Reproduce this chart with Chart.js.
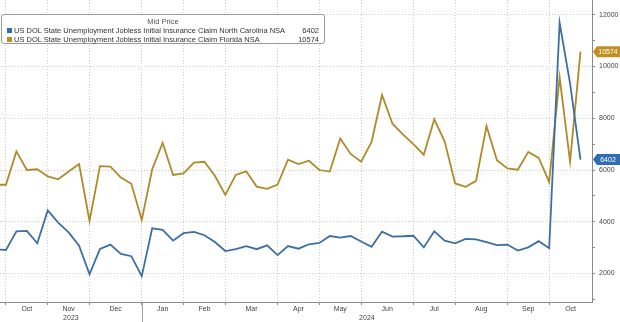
<!DOCTYPE html>
<html>
<head>
<meta charset="utf-8">
<script src="https://cdn.jsdelivr.net/npm/chart.js@4.4.1/dist/chart.umd.min.js"></script>
<style>
  body { margin: 0; background: #fff; }
  #wrap { position: relative; width: 620px; height: 322px; }
  #legend {
    position: absolute; left: 1px; top: 14px; width: 322px; height: 28px;
    border: 1px solid #9a9a9a; border-radius: 3px; background: #fff;
    font: 7.5px "Liberation Sans", Arial, sans-serif; color: #333;
  }
  #legend div { position: absolute; line-height: 9px; white-space: nowrap; }
  #legend .sq { width: 5px; height: 5px; }
</style>
</head>
<body>
<div id="wrap">
  <canvas id="myChart" width="620" height="322"></canvas>
  <div id="legend"></div>
</div>
<script>
// weekly observations (week ending)
const weeks = [
  '2023-09-23', '2023-09-30', '2023-10-07', '2023-10-14', '2023-10-21', '2023-10-28',
  '2023-11-04', '2023-11-11', '2023-11-18', '2023-11-25', '2023-12-02', '2023-12-09',
  '2023-12-16', '2023-12-23', '2023-12-30', '2024-01-06', '2024-01-13', '2024-01-20',
  '2024-01-27', '2024-02-03', '2024-02-10', '2024-02-17', '2024-02-24', '2024-03-02',
  '2024-03-09', '2024-03-16', '2024-03-23', '2024-03-30', '2024-04-06', '2024-04-13',
  '2024-04-20', '2024-04-27', '2024-05-04', '2024-05-11', '2024-05-18', '2024-05-25',
  '2024-06-01', '2024-06-08', '2024-06-15', '2024-06-22', '2024-06-29', '2024-07-06',
  '2024-07-13', '2024-07-20', '2024-07-27', '2024-08-03', '2024-08-10', '2024-08-17',
  '2024-08-24', '2024-08-31', '2024-09-07', '2024-09-14', '2024-09-21', '2024-09-28',
  '2024-10-05', '2024-10-12', '2024-10-19'
];

const northCarolina = [
  2940, 2910, 3630, 3650, 3170, 4440, 3970, 3590, 3080, 1970, 2950, 3120,
  2760, 2670, 1900, 3750, 3690, 3270, 3560, 3610, 3480, 3220, 2870, 2940,
  3060, 2940, 3090, 2710, 3060, 2960, 3130, 3180, 3450, 3390, 3450, 3240,
  3030, 3620, 3430, 3440, 3460, 3010, 3630, 3270, 3170, 3340, 3320, 3210,
  3100, 3120, 2890, 3010, 3250, 2980, 11690, 9350, 6402
];

const florida = [
  5430, 5430, 6720, 6000, 6030, 5750, 5640, 5940, 6230, 4030, 6150, 6130,
  5710, 5470, 4070, 6030, 7050, 5810, 5870, 6290, 6320, 5780, 5040, 5810,
  5950, 5360, 5270, 5440, 6400, 6230, 6360, 6000, 5940, 7220, 6620, 6320,
  7090, 8900, 7790, 7380, 7000, 6590, 7960, 7100, 5480, 5350, 5580, 7700,
  6380, 6060, 6010, 6700, 6470, 5540, 9590, 6320, 10574
];

const monthLabels = ['Oct', 'Nov', 'Dec', 'Jan', 'Feb', 'Mar', 'Apr', 'May', 'Jun', 'Jul', 'Aug', 'Sep', 'Oct'];
const yearLabels = ['2023', '2024'];
const yTicks = [1000, 2000, 3000, 4000, 5000, 6000, 7000, 8000, 9000, 10000, 11000, 12000];
const seriesNames = [
  'US DOL State Unemployment Jobless Initial Insurance Claim North Carolina NSA',
  'US DOL State Unemployment Jobless Initial Insurance Claim Florida NSA'
];
const seriesColors = ['#3d6fa3', '#b08a2a'];
const tagColors = ['#2f6db3', '#c08f22'];

const xMin = 0.43, xMax = 57.1;

// last week of every month -> gridline, year change -> separator
var monthEnds = [];
var yearEnd = 0;
for (var i = 0; i < weeks.length - 1; i++) {
  if (weeks[i].slice(5, 7) !== weeks[i + 1].slice(5, 7)) monthEnds.push(i);
  if (weeks[i].slice(0, 4) !== weeks[i + 1].slice(0, 4)) yearEnd = i;
}
var monthMids = monthEnds.map(function (m, k) {
  var next = k + 1 < monthEnds.length ? monthEnds[k + 1] : xMax;
  return (m + next) / 2;
});
var yearMids = [(xMin + yearEnd) / 2, (yearEnd + xMax) / 2];

var allSeries = [northCarolina, florida];

// legend box
var legend = document.getElementById('legend');
var html = '<div style="left:0;width:322px;text-align:center;top:2px;color:#555">Mid Price</div>';
allSeries.forEach(function (s, k) {
  var top = 11 + k * 9;
  html += '<div class="sq" style="left:5px;top:' + (top + 2) + 'px;background:' + tagColors[k] + '"></div>';
  html += '<div style="left:12px;top:' + top + 'px">' + seriesNames[k] + '</div>';
  html += '<div style="right:5px;top:' + top + 'px">' + s[s.length - 1] + '</div>';
});
legend.innerHTML = html;

const lastValueTags = {
  id: 'lastValueTags',
  afterDraw(chart) {
    var ctx = chart.ctx;
    var yScale = chart.scales.y;
    var x0 = chart.chartArea.right + 1;
    ctx.save();
    allSeries.forEach(function (s, k) {
      var v = s[s.length - 1];
      var y = yScale.getPixelForValue(v);
      ctx.fillStyle = tagColors[k];
      ctx.beginPath();
      ctx.moveTo(x0, y);
      ctx.lineTo(x0 + 4, y - 5.5);
      ctx.lineTo(620, y - 5.5);
      ctx.lineTo(620, y + 5.5);
      ctx.lineTo(x0 + 4, y + 5.5);
      ctx.closePath();
      ctx.fill();
      ctx.fillStyle = '#fff';
      ctx.font = '7px "Liberation Sans", Arial, sans-serif';
      ctx.textAlign = 'center';
      ctx.textBaseline = 'middle';
      ctx.fillText(String(v), x0 + 15, y + 0.5);
    });
    ctx.restore();
  }
};

const yearSeparator = {
  id: 'yearSeparator',
  afterDraw(chart) {
    var ctx = chart.ctx;
    var x = Math.round(chart.scales.x.getPixelForValue(yearEnd)) + 0.5;
    ctx.save();
    ctx.strokeStyle = '#a0a0a0';
    ctx.lineWidth = 1;
    ctx.beginPath();
    ctx.moveTo(x, chart.chartArea.bottom);
    ctx.lineTo(x, chart.height);
    ctx.stroke();
    ctx.restore();
  }
};

var tickFont = { family: '"Liberation Sans", Arial, sans-serif', size: 7 };

function noPadding(s) {
  s.paddingTop = 0;
  s.paddingBottom = 0;
  s.paddingLeft = 0;
  s.paddingRight = 0;
}

var ctx = document.getElementById('myChart').getContext('2d');
var myChart = new Chart(ctx, {
  type: 'line',
  data: {
    datasets: [
      {
        label: seriesNames[0],
        data: northCarolina.map(function (v, i) { return { x: i, y: v }; }),
        borderColor: seriesColors[0],
        borderWidth: 1.8
      },
      {
        label: seriesNames[1],
        data: florida.map(function (v, i) { return { x: i, y: v }; }),
        borderColor: seriesColors[1],
        borderWidth: 1.8
      }
    ]
  },
  options: {
    responsive: false,
    animation: false,
    layout: { padding: 0, autoPadding: false },
    elements: { point: { radius: 0 }, line: { tension: 0 } },
    plugins: { legend: { display: false }, tooltip: { enabled: false } },
    scales: {
      x: {
        type: 'linear', position: 'bottom', weight: 0, min: xMin, max: xMax,
        afterBuildTicks: function (s) { s.ticks = monthEnds.map(function (v) { return { value: v }; }); },
        ticks: { autoSkip: false, callback: function () { return ''; }, padding: 0 },
        grid: { color: '#cdcdcd', tickColor: '#8a8a8a', tickLength: 3 },
        border: { color: '#8a8a8a', width: 1, dash: [1, 2] },
        afterFit: function (s) { s.height = 3; noPadding(s); }
      },
      xMonth: {
        type: 'linear', position: 'bottom', weight: 1, min: xMin, max: xMax,
        afterBuildTicks: function (s) { s.ticks = monthMids.map(function (v) { return { value: v }; }); },
        ticks: {
          autoSkip: false, maxRotation: 0, padding: 0, color: '#444', font: tickFont,
          callback: function (v, i) { return monthLabels[i]; }
        },
        grid: { display: false, drawTicks: false },
        border: { display: false },
        afterFit: function (s) { s.height = 9; noPadding(s); }
      },
      xYear: {
        type: 'linear', position: 'bottom', weight: 2, min: xMin, max: xMax,
        afterBuildTicks: function (s) { s.ticks = yearMids.map(function (v) { return { value: v }; }); },
        ticks: {
          autoSkip: false, maxRotation: 0, padding: 0, color: '#444', font: tickFont,
          callback: function (v, i) { return yearLabels[i]; }
        },
        grid: { display: false, drawTicks: false },
        border: { display: false },
        afterFit: function (s) { s.height = 8; noPadding(s); }
      },
      y: {
        position: 'right', min: 900, max: 12570,
        afterBuildTicks: function (s) { s.ticks = yTicks.map(function (v) { return { value: v }; }); },
        ticks: {
          autoSkip: false, padding: 4, color: '#444', font: tickFont,
          callback: function (v) { return v % 2000 === 0 ? String(v) : ''; }
        },
        grid: {
          color: function (c) { return c.tick && c.tick.value % 2000 === 0 ? '#cdcdcd' : 'rgba(0,0,0,0)'; },
          tickColor: '#8a8a8a', tickLength: 3
        },
        border: { color: '#8a8a8a', width: 1, dash: [1, 2] },
        afterFit: function (s) { s.width = 28; noPadding(s); }
      }
    }
  },
  plugins: [lastValueTags, yearSeparator]
});
</script>
</body>
</html>
